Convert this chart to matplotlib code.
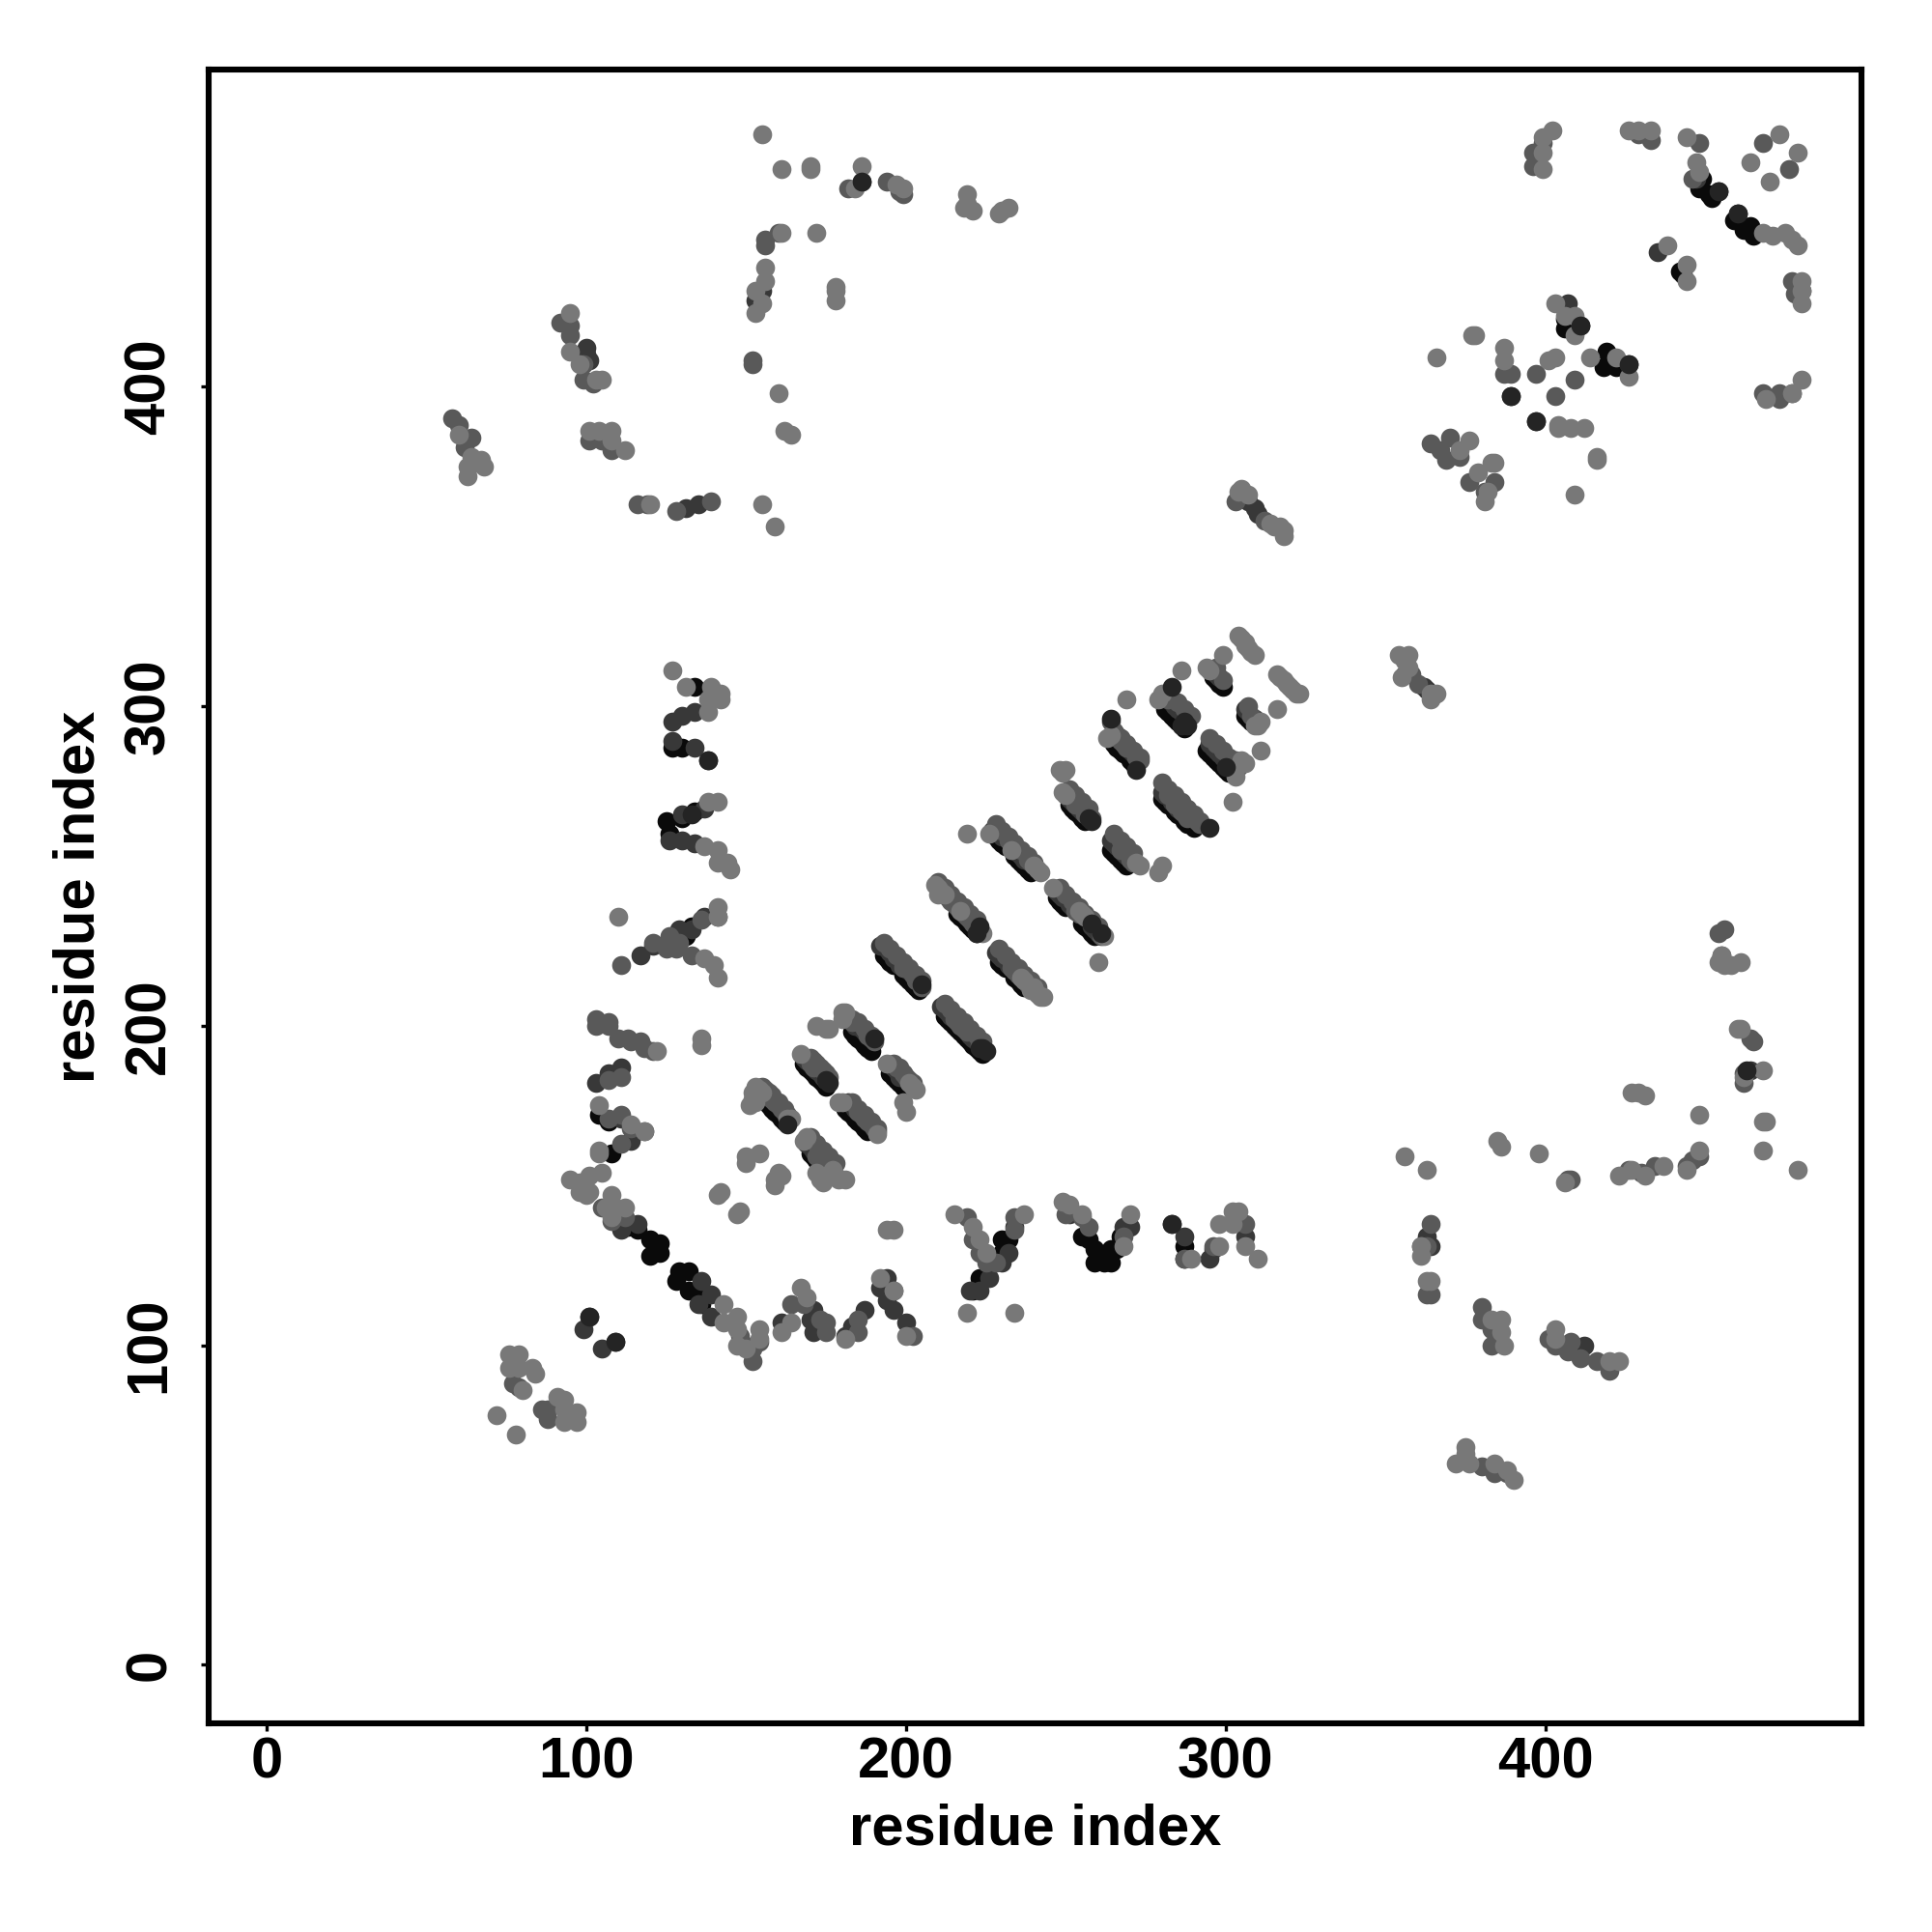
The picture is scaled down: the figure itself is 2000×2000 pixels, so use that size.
import matplotlib
matplotlib.use("Agg")
import matplotlib.pyplot as plt

plt.rcParams['font.family'] = ['Liberation Sans', 'DejaVu Sans']
plt.rcParams['font.weight'] = 'bold'

tick_vals = [0, 100, 200, 300, 400]
axis_label = "residue index"

# contacts as (residue i, residue j), one list per shade

# diagonal stripes, darkest under edge
stripes_black = [
    (157,175),(158,174),(159,173),(160,172),(161,171),(162,170),
    (168,188),(169,187),(170,186),(171,185),(172,184),(173,183),(174,182),(175,181),
    (195,185),(196,184),(197,183),(198,182),(199,181),
    (181,174),(182,173),(183,172),(184,171),(185,170),(186,169),(187,168),(188,167),
    (170,160),(171,159),(172,158),(173,157),(174,156),
    (183,198),(184,197),(185,196),(186,195),(187,194),(188,193),(189,192),
    (193,222),(194,221),(195,220),(196,219),(199,216),(200,215),(201,214),(202,213),(203,212),(204,211),
    (212,203),(213,202),(214,201),(215,200),(216,199),(217,198),(218,197),(219,196),(220,195),(221,194),(222,193),(223,192),(224,191),
    (216,235),(217,234),(218,233),(219,232),(220,231),(221,230),(222,229),
    (229,220),(230,219),(231,218),(234,215),(235,214),(236,213),(237,212),
    (228,259),(229,258),(230,257),(231,256),(234,253),(235,252),(236,251),(237,250),(238,249),(239,248),
    (247,240),(248,239),(249,238),(250,237),(255,232),(256,231),(257,230),(258,229),(259,228),
    (251,269),(252,268),(253,267),(254,266),(255,265),(256,264),
    (264,255),(265,254),(266,253),(267,252),(268,251),(269,250),
    (265,288),(266,287),(267,286),(268,285),(270,283),(271,282),
    (280,271),(281,270),(282,269),(284,267),(285,266),(287,264),(288,263),(290,262),
    (281,299),(282,298),(283,297),(284,296),(285,295),(286,294),(287,293),
    (294,286),(295,285),(296,284),(297,283),(298,282),(299,281),(300,280),(301,279),
    (306,297),(307,296),(308,295),
    (296,309),(297,308),(298,307),(299,306),
]
stripes_dark = [
    (192,225),(193,225),(194,224),(195,223),(196,221),(197,221),(198,219),(200,218),(201,217),
    (211,206),(212,205),(213,204),(214,203),(220,197),(221,196),(222,195),
    (227,261),(228,261),(229,260),(230,259),(235,254),(236,253),(237,252),
    (228,223),(229,222),(230,221),(232,219),
    (247,242),(248,241),(249,240),(251,238),(252,237),(258,231),(259,230),(260,229),
    (251,271),(252,270),(254,268),(255,267),
    (264,258),(265,257),(266,256),(268,254),(269,253),
    (168,190),(169,189),(172,186),(173,185),(174,184),
    (182,176),(183,175),(184,174),
    (181,203),(182,202),(184,200),(186,199),(187,198),
    (196,187),(197,186),(198,184),
    (169,163),(170,162),(171,161),
    (280,273),(281,272),(283,270),(285,268),(287,266),
    (295,288),(296,287),(297,286),(298,285),(299,284),(300,283),(302,281),(303,280),
    (283,301),(284,300),(285,299),(286,298),(287,297),(288,296),
    (306,299),(307,298),(309,296),
    (296,311),(297,310),(298,309),
    (266,291),(267,290),(270,286),(271,285),
]
stripes_mid = [
    (156,178),(157,178),(158,177),(159,176),(160,175),(161,174),(162,173),(163,172),
    (170,188),(171,187),(175,183),
    (185,173),(186,172),(187,171),(188,170),(189,169),
    (172,159),(173,160),(174,159),(175,158),(176,157),(177,156),
    (183,201),(188,197),(189,196),(190,195),
    (199,218),(199,219),(202,216),(203,214),(203,215),(204,214),(205,212),
    (215,202),(216,201),(217,200),(218,199),(219,198),(223,194),(224,193),
    (213,240),(214,239),(215,238),(216,237),(218,235),(219,234),(220,233),(221,232),(222,231),(223,230),
    (233,218),(234,217),(235,216),(238,213),
    (232,258),(233,257),(238,252),(239,251),
    (253,236),(254,235),(261,228),
    (253,269),(256,266),(257,266),(258,265),
    (267,255),(270,252),(271,251),
    (267,289),(268,288),(269,287),(272,284),(273,283),
    (282,272),(284,269),(286,267),(288,265),(291,264),(292,263),
    (198,187),(199,185),(200,184),
    (190,168),(191,167),
    (307,300),(308,297),
    (297,312),(299,308),
    (303,282),(304,281),
    (264,295),(265,292),
]
# upper edge of each stripe, makes them as wide as in the picture
stripes_upper = [
    (155,181),(156,180),(157,179),(158,178),(160,176),(162,174),
    (170,190),(171,189),(172,188),(173,187),(174,186),(175,185),(176,184),
    (196,188),(197,187),(199,185),(201,183),(202,182),
    (183,176),(185,174),(187,172),(189,170),(191,168),
    (170,165),(172,163),(174,161),(176,159),(178,157),
    (183,202),(185,201),(187,199),(189,197),(190,196),
    (193,226),(195,224),(197,222),(199,220),(201,218),(203,216),(205,214),
    (212,207),(214,205),(216,203),(218,201),(220,199),(222,197),(224,195),
    (210,245),(212,243),(214,241),(216,239),(218,237),(220,235),(222,233),
    (229,224),(231,222),(233,220),(235,218),(237,216),(239,214),(241,212),
    (228,263),(230,261),(232,259),(234,257),(236,255),(238,253),(240,251),
    (248,243),(250,241),(252,239),(254,237),(256,235),(258,233),(260,231),
    (251,274),(253,272),(255,270),(257,268),
    (265,260),(267,258),(269,256),(271,254),
    (265,292),(267,290),(269,288),(271,286),(273,284),
    (280,276),(282,274),(284,272),(286,270),(288,268),(290,266),(292,264),
    (282,302),(285,301),(287,299),(289,297),
    (295,290),(297,288),(299,286),(301,284),(303,283),
]
stripes_light = [
    (153,181),(154,180),(155,179),(151,175),(152,177),(153,176),(152,179),(163,171),(164,171),
    (167,191),(172,200),(175,199),(176,199),
    (180,204),(181,204),(180,202),
    (194,188),(201,182),(202,181),(203,180),(199,176),(200,173),
    (180,176),(179,176),(191,166),
    (168,164),(169,165),(173,152),(174,151),(175,153),(177,155),(178,153),(179,152),(181,152),(172,154),
    (209,244),(210,243),(210,241),(211,242),(212,241),(217,236),(224,229),
    (240,212),(241,210),(242,209),(243,209),(239,211),(236,215),(237,214),
    (219,260),(226,260),(233,255),(240,250),(241,249),(242,248),
    (246,243),(254,236),(255,235),(256,234),(262,228),(260,220),
    (248,280),(250,280),(249,279),
    (249,273),(250,272),
    (272,251),(273,250),(280,250),(279,248),
    (264,291),(263,290),(269,302),(286,311),(299,316),(311,286),(316,299),(302,270),
    (279,302),(280,304),
    (305,283),(306,282),(303,278),
    (304,322),(305,321),(306,319),(307,318),(308,317),(309,316),(306,320),
    (316,310),(317,309),(318,308),(319,307),(320,306),(321,305),(322,304),(323,304),
    (309,294),(310,294),(311,295),(294,312),(295,311),
]
# drawn last, dark ends sitting on top of the stripes
stripes_top = [
    (163,169),(176,182),(175,183),(190,196),(205,213),(225,192),(224,193),(223,193),
    (222,229),(223,231),(261,229),(258,232),(257,265),(258,264),(272,280),
    (286,294),(288,294),(287,295),(300,281),(295,262),(264,296),(283,306),
]

# the rest of the map, all round the stripes
others_black = [
    (125,264),(126,260),(134,267),(130,265),(134,306),(130,287),(127,287),
    (133,231),(131,228),
    (104,172),(107,170),(108,160),
    (113,137),(116,136),(120,133),(123,132),(123,129),(120,128),(129,123),(132,123),(128,120),(132,117),(136,116),(136,113),
    (223,121),(221,117),(230,133),(232,133),(230,129),(257,133),(255,134),(259,130),(259,126),(262,126),(264,126),(264,130),(267,134),(266,130),
    (287,131),(287,127),
    (449,465),(448,462),(451,460),(454,461),(452,459),(460,454),(459,452),(462,449),(464,450),(465,447),
    (442,436),(443,435),
    (406,421),(406,418),(411,419),(419,411),(418,406),(422,406),
]
others_dark = [
    (127,295),(130,297),(134,298),(127,289),(134,287),(138,283),
    (126,258),(130,258),(134,257),(130,266),(137,268),
    (137,234),(133,230),(129,230),(121,225),(117,222),
    (111,187),(107,185),(103,182),
    (111,171),(114,164),
    (99,105),(101,109),(105,99),(109,101),
    (116,138),(111,136),(136,120),(139,116),(135,113),(139,109),
    (161,107),(171,111),(170,108),(171,104),(181,103),(183,106),(187,111),
    (194,121),(192,118),(194,114),(196,111),(200,107),
    (223,117),(220,117),(226,121),(232,129),(230,126),(234,137),
    (251,141),(268,137),(270,137),(283,138),(287,134),(295,127),(306,134),(296,130),
    (186,464),(100,412),(100,410),(101,408),
    (155,430),(153,427),(135,363),(131,362),
    (307,364),(309,362),(310,360),(362,306),(363,305),
    (389,397),(397,389),(407,426),(426,407),(464,186),
    (363,134),(412,100),(364,131),
    (447,465),(435,442),
]
others_mid = [
    (103,202),(107,201),(107,200),(103,200),(110,196),(113,196),(114,195),(117,195),(118,193),(121,192),
    (111,184),(107,183),(136,233),(141,234),(128,224),(133,222),
    (129,226),(126,228),(121,226),(125,224),
    (107,171),(111,172),(114,168),(118,167),(111,163),
    (105,143),(112,140),(108,139),
    (95,416),(95,419),(92,420),(99,402),(102,401),(99,407),
    (58,390),(60,388),(64,384),(62,381),(116,363),(119,363),(128,361),(139,364),
    (101,383),(105,383),(108,380),
    (152,407),(152,408),(156,444),(156,446),(160,448),(194,464),(199,460),(198,461),(182,462),
    (396,473),(398,473),(396,469),(399,476),(429,479),(433,477),
    (448,476),(446,465),(468,476),(476,468),
    (364,382),(367,380),(370,384),(369,377),(373,378),(376,370),(384,370),(381,367),
    (387,404),(389,404),(397,404),(403,397),(409,402),
    (468,398),(473,396),(473,398),(477,398),(480,430),(477,433),(478,429),
    (148,103),(152,99),(152,95),(154,101),(150,100),(175,107),(173,108),(175,104),
    (202,103),(196,117),(168,113),(164,113),(185,104),(185,108),
    (79,87),(77,88),(88,80),(86,80),(88,77),
    (111,219),(219,140),(221,133),(223,129),(225,126),(228,126),(234,140),(234,136),
    (250,141),(255,140),(257,137),(268,134),(287,127),(296,131),(306,138),
    (305,366),(303,364),(312,358),(356,310),(358,310),(360,307),
    (448,159),(446,158),(444,156),(430,154),(434,156),(426,155),(407,152),(408,152),
    (401,102),(403,100),(408,101),(407,98),(411,96),(416,95),(420,92),
    (380,108),(383,105),(383,100),(380,112),
    (364,138),(363,131),(361,131),(363,116),(364,116),
    (456,230),(454,229),(455,222),(464,196),(465,195),(462,182),(462,185),
    (380,62),(384,60),(388,60),
]
others_light = [
    (155,479),(161,468),(170,468),(170,469),(186,469),(184,462),(197,463),(199,462),
    (161,448),(172,448),(156,437),(156,433),(153,430),(155,426),(153,423),
    (178,431),(178,430),(178,427),(160,398),(162,386),(164,385),
    (219,460),(219,457),(221,455),(218,456),(230,455),(229,454),(232,456),
    (95,423),(95,411),(98,407),(105,402),(103,402),
    (60,385),(64,378),(63,375),(63,372),(66,376),(68,375),(67,377),
    (101,386),(104,386),(108,386),(108,383),(112,380),
    (155,363),(159,356),(120,363),
    (402,480),(399,478),(399,473),(399,468),
    (426,480),(429,480),(433,480),(444,478),(447,470),(448,467),
    (473,479),(479,473),(464,470),(470,464),
    (468,448),(471,447),(475,448),(477,446),(479,444),(438,444),(444,438),(444,433),
    (480,433),(480,430),(480,426),(403,426),(409,422),(409,416),(406,422),
    (377,416),(378,416),(366,409),(387,412),(387,408),(414,409),(422,409),(426,403),
    (401,408),(403,409),(404,388),(404,387),(408,387),(412,387),(416,377),(416,378),(409,366),
    (376,383),(373,380),(383,376),(384,376),(379,373),(381,364),(382,367),
    (480,402),(477,398),(469,396),
    (127,311),(131,306),(139,306),(142,304),(138,302),(142,302),(138,298),
    (141,270),(138,270),(137,256),(141,255),(141,251),(144,251),(145,249),
    (110,234),(141,237),(141,234),(137,221),(140,219),(141,215),
    (136,196),(136,194),(122,192),
    (104,175),(104,161),(104,160),(114,169),(118,167),
    (95,152),(98,151),(101,153),(105,154),(101,148),(98,148),(100,147),
    (108,147),(106,143),(109,143),(112,143),(108,140),
    (143,113),(143,107),(147,109),(147,105),(147,100),(150,99),(154,105),(154,102),
    (161,104),(164,107),(167,118),(169,115),(181,102),
    (192,121),(196,117),(200,103),(194,136),(196,136),
    (76,97),(79,97),(76,93),(79,93),(83,93),(84,91),(80,86),
    (72,78),(78,72),(91,84),(93,83),(93,80),(93,76),(97,79),(97,76),
    (141,147),(142,148),(147,141),(148,142),
    (150,159),(154,160),(150,157),(159,150),(160,154),(159,152),(161,153),
    (215,141),(219,110),(234,110),(237,141),(221,137),(223,133),(225,129),
    (249,145),(251,144),(255,141),(268,131),(270,141),
    (298,131),(298,138),(302,142),(304,142),(302,138),(306,131),(310,127),(289,127),
    (304,367),(305,368),(307,366),(314,357),(317,356),(318,355),(318,353),(315,356),
    (354,316),(357,316),(356,314),(357,312),(355,309),(364,304),(366,304),(364,302),
    (356,159),(363,155),(385,164),(386,162),(398,160),(406,151),
    (423,153),(427,155),(431,153),(437,156),(448,172),(448,161),(444,155),
    (427,179),(431,178),(429,179),
    (468,186),(468,170),(469,170),(468,161),(479,155),
    (455,222),(454,220),(456,219),(458,219),(461,220),(460,199),(461,199),(462,184),
    (403,105),(403,102),(423,95),(420,95),
    (386,108),(386,104),(387,100),(383,108),
    (364,120),(363,120),(361,128),(361,131),
    (375,68),(375,66),(372,63),(376,63),(384,63),(390,58),(388,61),
]
others_top = [
    (186,464),(463,186),(411,419),(426,407),(389,397),(397,389),(133,266),(283,138),
    (138,283),(101,109),(109,101),(454,461),(460,454),
]

shade_layers = [
    (stripes_black + others_black, 0.04),
    (stripes_dark + others_dark, 0.22),
    (stripes_upper + stripes_mid + others_mid, 0.35),
    (stripes_light + others_light, 0.47),
    (stripes_top + others_top, 0.14),
]

fig = plt.figure(figsize=(10, 10), dpi=200)
ax = fig.add_axes([0.108, 0.108, 0.8555, 0.856])

for pts, shade in shade_layers:
    xs, ys = zip(*pts)
    ax.scatter(xs, ys, s=50, color=str(shade), linewidths=0)

ax.set_xlim(-18.1, 498.8)
ax.set_ylim(-18.3, 499.1)
ax.set_xticks(tick_vals)
ax.set_yticks(tick_vals)
ax.tick_params(axis='x', length=3, width=1.2, labelsize=21.5, pad=2)
ax.tick_params(axis='y', length=3, width=1.2, labelsize=21.5, pad=9)
for lab in ax.get_yticklabels():
    lab.set_rotation(90)
    lab.set_va('center')
for sp in ax.spines.values():
    sp.set_linewidth(2.2)
ax.set_xlabel(axis_label, fontsize=21.5, fontweight='bold', labelpad=5)
ax.set_ylabel(axis_label, fontsize=21.5, fontweight='bold', labelpad=6.5)

fig.savefig("out.png", dpi=200, facecolor='white')
